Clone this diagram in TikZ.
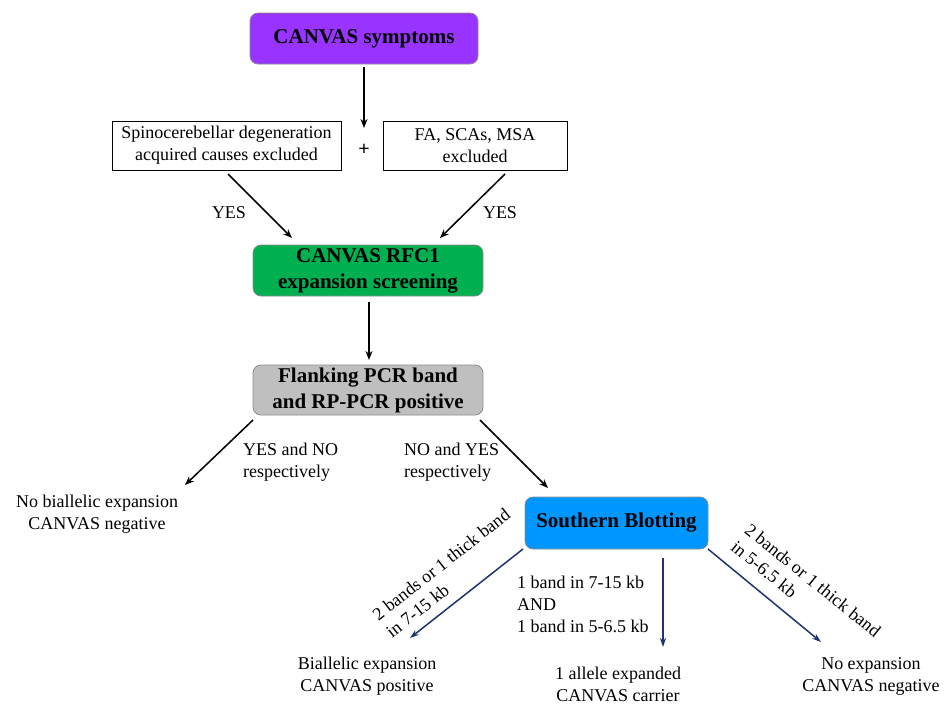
\documentclass[tikz,border=0pt]{standalone}
\usepackage{fontspec}
\setmainfont{Liberation Serif}
\usetikzlibrary{arrows.meta}
\definecolor{cpurple}{HTML}{9933FF}
\definecolor{cgreen}{HTML}{00B050}
\definecolor{cgray}{HTML}{BFBFBF}
\definecolor{cblue}{HTML}{0096FF}
\definecolor{cnavy}{HTML}{1F3370}
\tikzset{
  hdr/.style={draw=black!45, line width=0.8pt, rounded corners=8pt, align=center, inner sep=0pt,
    font=\fontsize{21}{26}\selectfont\bfseries},
  plain/.style={draw=black, line width=1pt, align=center, inner sep=0pt, font=\fontsize{18}{22}\selectfont},
  txt/.style={align=center, inner sep=0pt, font=\fontsize{18}{22}\selectfont},
  txtl/.style={align=left, inner sep=0pt, font=\fontsize{18}{22}\selectfont},
  arr/.style={line width=1.5pt, -{Stealth[length=9pt,width=7pt]}},
  narr/.style={line width=1.5pt, draw=cnavy, -{Stealth[length=9pt,width=6pt]}},
}
\begin{document}
\begin{tikzpicture}[x=1pt,y=-1pt]
\useasboundingbox (0,0) rectangle (952,704);
% boxes
\node[hdr, fill=cpurple, minimum width=228pt, minimum height=51pt] (sym) at (364,38.5) {CANVAS symptoms};
\node[plain, minimum width=229pt, minimum height=49pt] (left) at (226.5,145.5) {Spinocerebellar degeneration\\acquired causes excluded};
\node[plain, minimum width=184pt, minimum height=49pt] (right) at (475,145.5) {FA, SCAs, MSA\\excluded};
\node[txt, font=\fontsize{20}{24}\selectfont\bfseries] (plus) at (364,150) {+};
\node[hdr, fill=cgreen, minimum width=230pt, minimum height=51pt] (rfc) at (368,270.5) {CANVAS RFC1\\expansion screening};
\node[hdr, fill=cgray, minimum width=230pt, minimum height=50pt] (pcr) at (368,390) {Flanking PCR band\\and RP-PCR positive};
\node[hdr, fill=cblue, minimum width=183pt, minimum height=52pt] (sb) at (616.5,523) {Southern Blotting};
% outcomes
\node[txt] (neg1) at (97,514) {No biallelic expansion\\CANVAS negative};
\node[txt] (pos) at (367,676) {Biallelic expansion\\CANVAS positive};
\node[txt] (carr) at (618,684) {1 allele expanded\\CANVAS carrier};
\node[txt] (neg2) at (871,676) {No expansion\\CANVAS negative};
% coordinates
\coordinate (c1) at (364,128);
\coordinate (l0) at (228,174);
\coordinate (l1) at (292,238);
\coordinate (r0) at (505,174);
\coordinate (r1) at (440,238);
\coordinate (g0) at (369,302);
\coordinate (g1) at (369,360);
\coordinate (p0) at (253,420);
\coordinate (p1) at (185,485);
\coordinate (q0) at (480,420);
\coordinate (q1) at (548,488);
\coordinate (s0) at (523,549);
\coordinate (s1) at (410,638);
\coordinate (m0) at (663,558);
\coordinate (m1) at (663,647);
\coordinate (t0) at (708,549);
\coordinate (t1) at (821,642);
% connectors
\draw[arr, shorten <=3pt] (sym.south) -- (c1);
\draw[arr] (l0) -- (l1);
\draw[arr] (r0) -- (r1);
\draw[arr] (g0) -- (g1);
\draw[arr] (p0) -- (p1);
\draw[arr] (q0) -- (q1);
\draw[narr] (s0) -- (s1);
\draw[narr] (m0) -- (m1);
\draw[narr] (t0) -- (t1);
% labels
\node[txt] (yl) at (229,213) {YES};
\node[txt] (yr) at (500,213) {YES};
\node[txtl, anchor=west] (lyn) at (243,462) {YES and NO\\respectively};
\node[txtl, anchor=west] (lny) at (404,462) {NO and YES\\respectively};
\node[txtl, rotate=38] (lb1) at (448,573) {2 bands or 1 thick band\\in 7-15 kb};
\node[txtl, anchor=west] (lb2) at (517,604) {1 band in 7-15 kb\\AND\\1 band in 5-6.5 kb};
\node[txtl, rotate=-39] (lb3) at (806,589) {2 bands or 1 thick band\\in 5-6.5 kb};
\end{tikzpicture}
\end{document}
